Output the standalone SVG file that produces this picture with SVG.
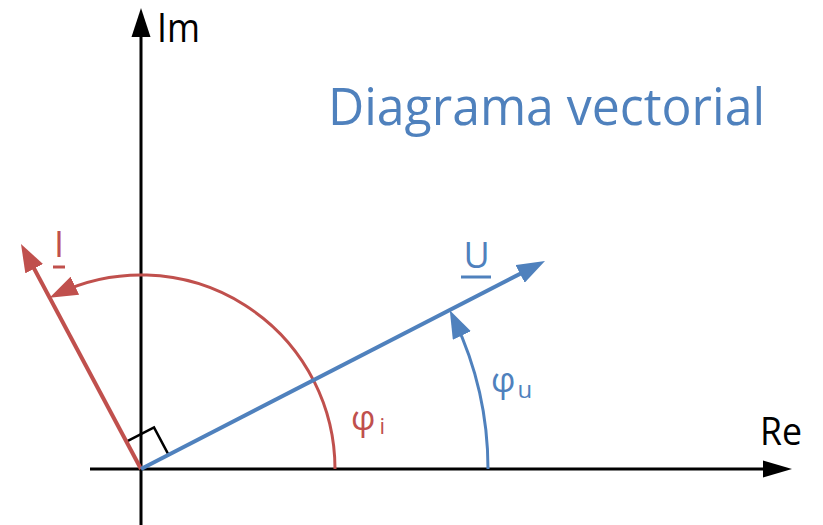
<svg xmlns="http://www.w3.org/2000/svg" width="823" height="525" viewBox="0 0 823 525">
<style>
.ax{stroke:#000;stroke-width:3;fill:none}
.blue{stroke:#4F81BD;fill:none}
.red{stroke:#C0504D;fill:none}
.t{font-family:"Open Sans","Noto Sans","Liberation Sans",sans-serif}
</style>
<defs>
<marker id="mb" viewBox="0 0 28 20" refX="18" refY="10" markerWidth="28" markerHeight="20" markerUnits="userSpaceOnUse" orient="auto"><path d="M0,0 L28,10 L0,20 z" fill="#4F81BD"/></marker>
<marker id="mr" viewBox="0 0 28 20" refX="18" refY="10" markerWidth="28" markerHeight="20" markerUnits="userSpaceOnUse" orient="auto"><path d="M0,0 L28,10 L0,20 z" fill="#C0504D"/></marker>
</defs>
<rect width="823" height="525" fill="#fff"/>
<g id="axes">
<line class="ax" x1="141" y1="525" x2="141" y2="36"/>
<polygon points="141,8 131.5,37 150.5,37" fill="#000"/>
<line class="ax" x1="90" y1="469" x2="764" y2="469"/>
<polygon points="792,469 763,460.5 763,477.5" fill="#000"/>
<text class="t" x="157" y="42" font-size="40" textLength="43" lengthAdjust="spacingAndGlyphs">Im</text>
<text class="t" x="760" y="445" font-size="38" textLength="42" lengthAdjust="spacingAndGlyphs">Re</text>
</g>
<g id="title">
<text class="t" x="328" y="125" font-size="51" fill="#4F81BD" textLength="437" lengthAdjust="spacingAndGlyphs">Diagrama vectorial</text>
</g>
<g id="right-angle">
<polyline points="168.6,454.8 154,427.4 126.4,441.6" fill="none" stroke="#000" stroke-width="2.5"/>
</g>
<g id="connectors">
<path id="arc-i" class="red" stroke-width="3" d="M335,469 A194,194 0 0,0 58.6,293.4" marker-end="url(#mr)"/>
<path id="arc-u" class="blue" stroke-width="3" d="M488,469 A347,347 0 0,0 454.1,319.3" marker-end="url(#mb)"/>
</g>
<g id="vector-I">
<line class="red" stroke-width="4" x1="141" y1="469" x2="25.7" y2="252.8" marker-end="url(#mr)"/>
<text class="t" x="59" y="257" font-size="36" fill="#C0504D" text-anchor="middle">I</text>
<line class="red" stroke-width="3" x1="53" y1="267" x2="65" y2="267"/>
</g>
<g id="vector-U">
<line class="blue" stroke-width="4" x1="141" y1="469" x2="536.1" y2="265.6" marker-end="url(#mb)"/>
<text class="t" x="476.5" y="268" font-size="36" fill="#4F81BD" text-anchor="middle">U</text>
<line class="blue" stroke-width="3" x1="461" y1="277" x2="491" y2="277"/>
</g>
<g id="label-phi-i">
<text class="t" x="351" y="430" font-size="34" fill="#C0504D">φ<tspan font-size="22" dx="4" dy="4">i</tspan></text>
</g>
<g id="label-phi-u">
<text class="t" x="491" y="392" font-size="34" fill="#4F81BD">φ<tspan font-size="24" dx="2" dy="6">u</tspan></text>
</g>
</svg>
